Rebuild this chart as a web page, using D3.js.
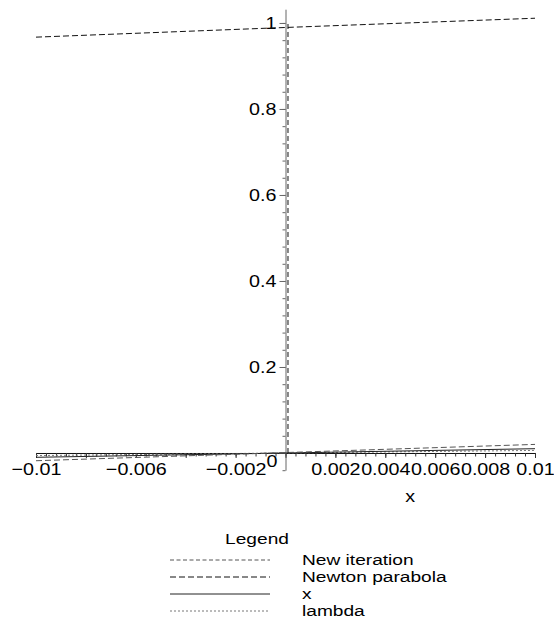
<!DOCTYPE html>
<html><head><meta charset="utf-8">
<script src="https://cdn.jsdelivr.net/npm/d3@7"></script>
<style>
html,body{margin:0;padding:0;background:#fff;}
svg{display:block;}
text{font-family:"Liberation Sans",Arial,Helvetica,sans-serif;fill:#000;}
</style>
</head><body>
<svg id="c" width="554" height="620"></svg>
<script>
// ---- data ----
const xDomain = [-0.01, 0.01];
const yDomain = [-0.04, 1.032];
const xMajorTicks = [-0.01,-0.008,-0.006,-0.004,-0.002,0,0.002,0.004,0.006,0.008,0.01];
const xLabelTicks = [-0.01,-0.006,-0.002,0.002,0.004,0.006,0.008,0.01];
const yMajorTicks = [0,0.2,0.4,0.6,0.8,1];
const yLabelTicks = [0.2,0.4,0.6,0.8,1];
const newIterX = [0.0001, 0.0001];
const newIterY = [0, 1.0];
const parabolaX = [-0.01, 0, 0.01];
const parabolaY = [0.967, 0.9895, 1.011];
const stepX = [-0.01, 0.01];
const stepY = [-0.018, 0.020];
const identX = [-0.01, 0.01];
const identY = [-0.01, 0.01];
const lambdaX = [-0.01, 0.01];
const lambdaY = [-0.006, 0.006];
const legendLabels = ["New iteration","Newton parabola","x","lambda"];

// ---- drawing ----
const SX = 1.16, FS = 17, LFS = 15.2, LSX = 1.26;
const svg = d3.select("#c");
const x = d3.scaleLinear().domain(xDomain).range([36, 535]);
const y = d3.scaleLinear().domain(yDomain).range([470.2, 9.2]);
const fmt = d => d < 0 ? "\u2212" + String(Math.abs(d)) : String(d);

const xMinor = d3.range(0, 51).map(i => -0.01 + i * 0.0004);
const yMinor = d3.range(0, 27).map(i => -0.04 + i * 0.04);

// x axis
const gx = svg.append("g").attr("transform", `translate(0,${y(0)})`);
gx.append("g").call(d3.axisBottom(x).tickValues(xMinor).tickSize(3.5).tickSizeOuter(0).tickFormat(""))
  .call(g => { g.select(".domain").attr("stroke", "#111"); g.selectAll("line").attr("stroke", "#333"); });
gx.append("g").call(d3.axisBottom(x).tickValues(xMajorTicks).tickSize(5).tickSizeOuter(0)
    .tickFormat(d => xLabelTicks.some(v => Math.abs(v - d) < 1e-9) ? fmt(d) : ""))
  .call(g => {
    g.select(".domain").remove();
    g.selectAll("line").attr("stroke", "#333");
    g.selectAll("text").attr("font-size", FS).attr("y", 10).attr("transform", `scale(${SX},1)`)
      .style("font-family", '"Liberation Sans",Arial,sans-serif').attr("fill", "#000");
  });

// y axis
const gy = svg.append("g").attr("transform", `translate(${x(0)},0)`);
gy.append("g").call(d3.axisLeft(y).tickValues(yMinor).tickSize(3).tickSizeOuter(0).tickFormat(""))
  .call(g => { g.select(".domain").attr("stroke", "#666"); g.selectAll("line").attr("stroke", "#666"); });
gy.append("g").call(d3.axisLeft(y).tickValues(yMajorTicks).tickSize(6).tickSizeOuter(0)
    .tickFormat(d => yLabelTicks.some(v => Math.abs(v - d) < 1e-9) ? fmt(d) : ""))
  .call(g => {
    g.select(".domain").remove();
    g.selectAll("line").attr("stroke", "#666");
    g.selectAll("text").attr("font-size", FS).attr("x", -9 / SX).attr("transform", `scale(${SX},1)`)
      .style("font-family", '"Liberation Sans",Arial,sans-serif').attr("fill", "#000");
  });

// origin label
svg.append("text").attr("transform", `translate(${x(0) - 8},${y(0) + 14}) scale(${SX},1)`)
  .attr("text-anchor", "end").attr("font-size", FS).text("0");

// axis title
svg.append("text").attr("transform", `translate(${x(0.005)},${502}) scale(${SX},1)`)
  .attr("text-anchor", "middle").attr("font-size", FS).text("x");

// curves
const line = d3.line().x(d => x(d[0])).y(d => y(d[1]));
const zip = (xs, ys) => xs.map((v, i) => [v, ys[i]]);
const styles = [
  {dash: "4,2.5", color: "#555", w: 1},   // New iteration
  {dash: "6,3", color: "#111", w: 1},     // Newton parabola
  {dash: null, color: "#222", w: 1},      // x
  {dash: "2,2", color: "#777", w: 1}      // lambda
];
function drawPath(pts, st, dashOverride) {
  svg.append("path").attr("d", line(pts)).attr("fill", "none")
    .attr("stroke", st.color).attr("stroke-width", st.w)
    .attr("stroke-dasharray", dashOverride || st.dash);
}
drawPath(zip(lambdaX, lambdaY), styles[3]);
drawPath(zip(identX, identY), styles[2]);
drawPath(zip(stepX, stepY), styles[0], "6,3");
drawPath(zip(parabolaX, parabolaY), styles[1]);
drawPath(zip(newIterX, newIterY), {dash: "5,3", color: "#111", w: 1});

// legend
svg.append("text").attr("transform", `translate(257,544) scale(${LSX},1)`)
  .attr("text-anchor", "middle").attr("font-size", LFS).text("Legend");
const lineYs = [560, 577, 594, 611];
const textYs = [565, 582, 599, 616];
legendLabels.forEach((lab, i) => {
  svg.append("line").attr("x1", 170).attr("x2", 270).attr("y1", lineYs[i]).attr("y2", lineYs[i])
    .attr("stroke", styles[i].color).attr("stroke-width", 1)
    .attr("stroke-dasharray", styles[i].dash);
  svg.append("text").attr("transform", `translate(302,${textYs[i]}) scale(${LSX},1)`)
    .attr("font-size", LFS).text(lab);
});
</script>
</body></html>
